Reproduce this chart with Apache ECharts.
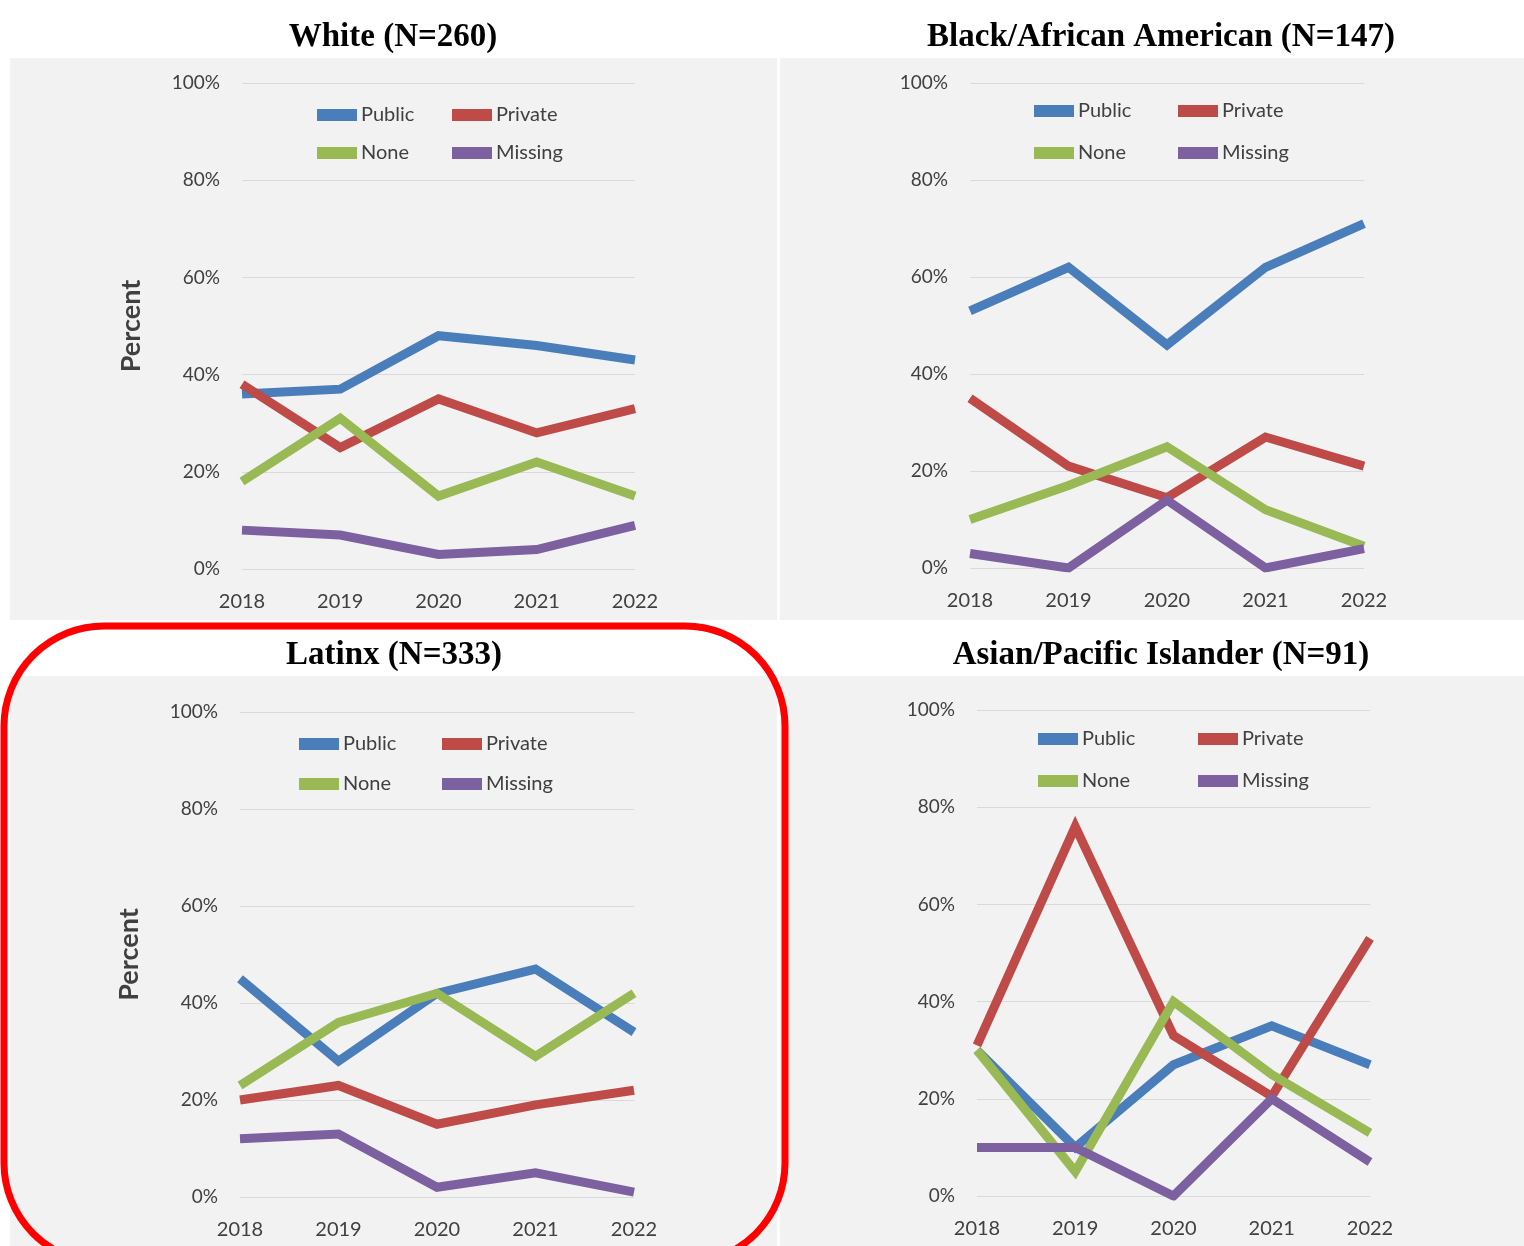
<!DOCTYPE html>
<html><head><meta charset="utf-8">
<script src="https://cdn.jsdelivr.net/npm/echarts@6/dist/echarts.min.js"></script>
<style>html,body{margin:0;padding:0;background:#fff}#c{width:1524px;height:1246px}</style>
</head><body><div id="c"></div>
<script>
// ---- data ----
const years = ['2018', '2019', '2020', '2021', '2022'];
const seriesNames = ['Public', 'Private', 'None', 'Missing'];
const yTickValues = [0, 20, 40, 60, 80, 100];
const panelTitles = ['White (N=260)', 'Black/African American (N=147)', 'Latinx (N=333)', 'Asian/Pacific Islander (N=91)'];

const whitePublic  = [36, 37, 48, 46, 43];
const whitePrivate = [38, 25, 35, 28, 33];
const whiteNone    = [18, 31, 15, 22, 15];
const whiteMissing = [8, 7, 3, 4, 9];

const blackPublic  = [53, 62, 46, 62, 71];
const blackPrivate = [35, 21, 14.5, 27, 21];
const blackNone    = [10, 17, 25, 12, 4.5];
const blackMissing = [3, 0, 14, 0, 4];

const latinxPublic  = [45, 28, 42, 47, 34];
const latinxPrivate = [20, 23, 15, 19, 22];
const latinxNone    = [23, 36, 42, 29, 42];
const latinxMissing = [12, 13, 2, 5, 1];

const asianPublic  = [30, 10, 27, 35, 27];
const asianPrivate = [31, 76, 33, 20.5, 53];
const asianNone    = [30, 5, 40, 25, 13];
const asianMissing = [10, 10, 0, 20, 7];

const panelData = [
  [whitePublic, whitePrivate, whiteNone, whiteMissing],
  [blackPublic, blackPrivate, blackNone, blackMissing],
  [latinxPublic, latinxPrivate, latinxNone, latinxMissing],
  [asianPublic, asianPrivate, asianNone, asianMissing]
];

// ---- styles / layout ----
const colors = ['#4a7ebb', '#be4b48', '#98b954', '#7d60a0'];
const labelFont = 'Lato, "Open Sans", sans-serif';
const textColor = '#404040';
const layout = [
  {grid: {left: 242, top: 83, width: 393, height: 486}, titleX: 393, titleY: 37, yName: true,
   leg: {x1: 317, x2: 452, y1: 115, y2: 153}},
  {grid: {left: 970, top: 83, width: 394, height: 485}, titleX: 1161, titleY: 37, yName: false,
   leg: {x1: 1034, x2: 1178, y1: 111, y2: 153}},
  {grid: {left: 240, top: 712, width: 394, height: 485}, titleX: 394, titleY: 655, yName: true,
   leg: {x1: 299, x2: 442, y1: 744, y2: 784}},
  {grid: {left: 977, top: 710, width: 393, height: 486}, titleX: 1161, titleY: 655, yName: false,
   leg: {x1: 1038, x2: 1198, y1: 739, y2: 781}}
];

const grids = [], xAxes = [], yAxes = [], series = [], legends = [];
const graphics = [
  {type: 'rect', shape: {x: 10, y: 58, width: 767, height: 562}, style: {fill: '#f2f2f2'}, z: -10, silent: true},
  {type: 'rect', shape: {x: 780, y: 58, width: 744, height: 562}, style: {fill: '#f2f2f2'}, z: -10, silent: true},
  {type: 'rect', shape: {x: 10, y: 676, width: 767, height: 570}, style: {fill: '#f2f2f2'}, z: -10, silent: true},
  {type: 'rect', shape: {x: 780, y: 676, width: 744, height: 570}, style: {fill: '#f2f2f2'}, z: -10, silent: true}
];

layout.forEach((L, i) => {
  grids.push(Object.assign({containLabel: false}, L.grid));
  xAxes.push({
    gridIndex: i, type: 'category', data: years, boundaryGap: false,
    axisLine: {show: false}, axisTick: {show: false},
    axisLabel: {fontSize: 20, color: textColor, fontFamily: labelFont, margin: 23}
  });
  yAxes.push({
    gridIndex: i, type: 'value', min: yTickValues[0], max: yTickValues[yTickValues.length - 1], interval: 20,
    axisLine: {show: false}, axisTick: {show: false},
    axisLabel: {fontSize: 19, color: textColor, fontFamily: labelFont, margin: 22, formatter: '{value}%'},
    splitLine: {lineStyle: {color: '#d9d9d9', width: 1}},
    name: L.yName ? 'Percent' : '', nameLocation: 'middle', nameRotate: 90, nameGap: 97,
    nameTextStyle: {fontSize: 27, fontWeight: 'bold', color: textColor, fontFamily: labelFont}
  });
  seriesNames.forEach((name, k) => {
    series.push({
      type: 'line', name: name, xAxisIndex: i, yAxisIndex: i, data: panelData[i][k],
      symbol: 'none', silent: true, animation: false,
      itemStyle: {color: colors[k]},
      lineStyle: {color: colors[k], width: 9, cap: 'butt', join: 'miter'}
    });
  });
  const pos = [[L.leg.x1, L.leg.y1], [L.leg.x2, L.leg.y1], [L.leg.x1, L.leg.y2], [L.leg.x2, L.leg.y2]];
  seriesNames.forEach((name, k) => {
    legends.push({
      data: [name], left: pos[k][0], top: pos[k][1] - 10, padding: 0, itemGap: 0,
      icon: 'rect', itemWidth: 40, itemHeight: 12, selectedMode: false,
      itemStyle: {color: colors[k]},
      textStyle: {fontSize: 20, color: textColor, fontFamily: labelFont, padding: [0, 0, 0, -1]}
    });
  });
  graphics.push({
    type: 'text', x: L.titleX, y: L.titleY, silent: true, z: 5,
    style: {text: panelTitles[i], fill: '#000', font: 'bold 33px "Liberation Serif", serif',
            textAlign: 'center', textVerticalAlign: 'middle'}
  });
});

graphics.push({
  type: 'rect', silent: true, z: 100,
  shape: {x: 4, y: 626, width: 781, height: 637, r: 100},
  style: {fill: 'none', stroke: '#ff0000', lineWidth: 7}
});

const chart = echarts.init(document.getElementById('c'), null, {renderer: 'canvas'});
chart.setOption({
  backgroundColor: '#ffffff',
  animation: false,
  grid: grids, xAxis: xAxes, yAxis: yAxes, series: series, legend: legends,
  graphic: graphics
});
</script></body></html>
